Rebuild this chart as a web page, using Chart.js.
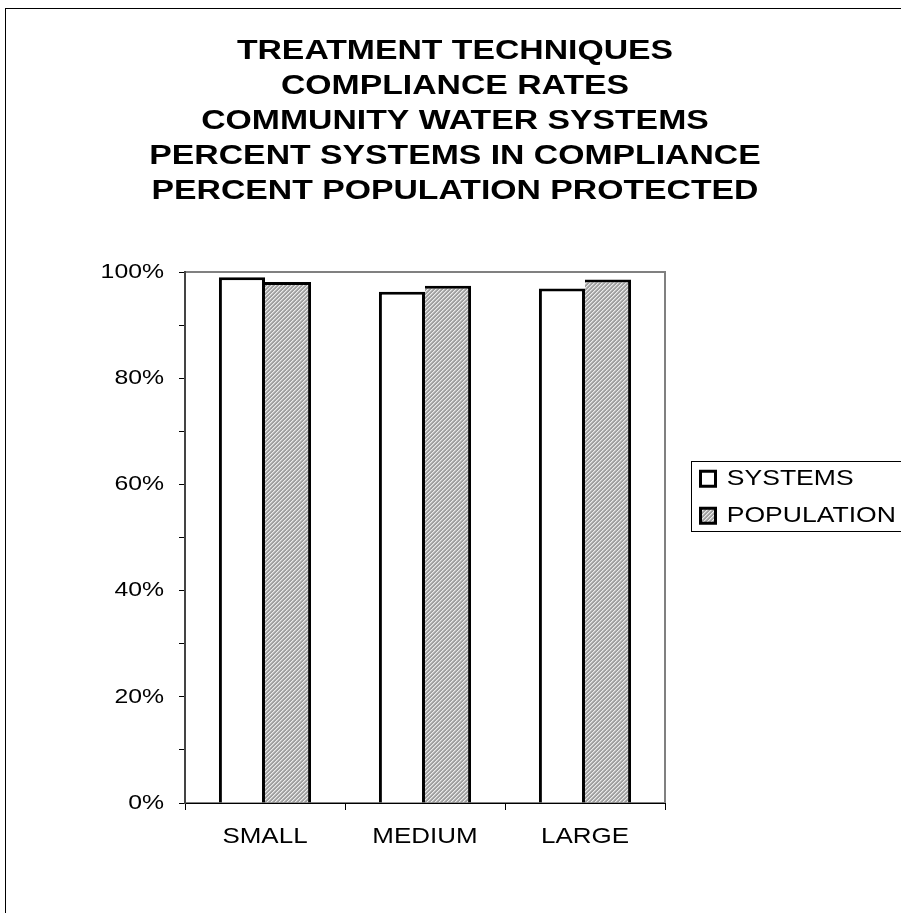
<!DOCTYPE html>
<html><head><meta charset="utf-8">
<script src="https://cdn.jsdelivr.net/npm/chart.js@4"></script>
<style>html,body{margin:0;padding:0;background:#fff;} #c{display:block;}</style>
</head><body>
<canvas id="c" width="901" height="913"></canvas>
<script>
const categories = ['SMALL', 'MEDIUM', 'LARGE'];
const seriesNames = ['SYSTEMS', 'POPULATION'];
const systemsValues = [99.0, 96.3, 96.9];
const populationValues = [98.1, 97.4, 98.6];
const titleLines = ['TREATMENT TECHNIQUES', 'COMPLIANCE RATES', 'COMMUNITY WATER SYSTEMS', 'PERCENT SYSTEMS IN COMPLIANCE', 'PERCENT POPULATION PROTECTED'];
const yMin = 0, yMax = 100, yStep = 10, yLabelEvery = 20;

const FONT = "'Liberation Sans', Arial, Helvetica, sans-serif";
const SN = 1.18, SB = 1.25;

const canvas = document.getElementById('c');
const ctx = canvas.getContext('2d');
const origFill = CanvasRenderingContext2D.prototype.fillText;
ctx.fillText = function (text, x, y) {
  const s = /bold/.test(this.font) ? SB : SN;
  this.save();
  this.translate(x, y);
  this.scale(s, 1);
  origFill.call(this, text, 0, 0);
  this.restore();
};

function makeHatch() {
  const t = document.createElement('canvas');
  t.width = 4; t.height = 4;
  const g = t.getContext('2d');
  const img = g.createImageData(4, 4);
  for (let y = 0; y < 4; y++) for (let x = 0; x < 4; x++) {
    const k = (x + y) % 4;
    const v = k === 0 ? 235 : (k === 1 ? 195 : 160);
    const i = (y * 4 + x) * 4;
    img.data[i] = v; img.data[i + 1] = v; img.data[i + 2] = v; img.data[i + 3] = 255;
  }
  g.putImageData(img, 0, 0);
  return ctx.createPattern(t, 'repeat');
}
const hatch = makeHatch();

Chart.defaults.font.family = FONT;
Chart.defaults.color = '#000';

const framePlugin = {
  id: 'frame',
  beforeDraw(chart) {
    const c = chart.ctx, a = chart.chartArea;
    c.save();
    c.fillStyle = '#fff';
    c.fillRect(0, 0, chart.width, chart.height);
    c.strokeStyle = '#000'; c.lineWidth = 1;
    c.strokeRect(5.5, 8.5, chart.width + 20, chart.height + 20);
    c.strokeStyle = '#808080'; c.lineWidth = 2;
    c.strokeRect(a.left, a.top, a.right - a.left, a.bottom - a.top);
    c.restore();
  },
  afterLayout(chart) {
    const t = chart.titleBlock;
    if (t) { t.left = 0; t.right = 910; t.width = 910; }
    const l = chart.legend;
    if (l) { l.left = 686; l.top = 453; l.right = 901; l.bottom = 620; l.width = 215; l.height = 167; }
  },
  afterDraw(chart) {
    const c = chart.ctx, l = chart.legend;
    c.save();
    c.strokeStyle = '#000'; c.lineWidth = 1;
    c.strokeRect(l.left + 5.5, l.top + 8.5, 240, 70);
    c.restore();
  }
};

new Chart(ctx, {
  type: 'bar',
  data: {
    labels: categories,
    datasets: [
      { label: seriesNames[0], data: systemsValues, backgroundColor: '#fff', borderColor: '#000',
        borderWidth: { top: 3, left: 3, right: 3, bottom: 0 }, borderSkipped: 'start' },
      { label: seriesNames[1], data: populationValues, backgroundColor: hatch, borderColor: '#000',
        borderWidth: { top: 3, left: 0, right: 3, bottom: 0 }, borderSkipped: 'start' }
    ]
  },
  options: {
    responsive: false,
    animation: false,
    datasets: { bar: { categoryPercentage: 0.576, barPercentage: 1.0 } },
    layout: { padding: { left: 0, right: 236, top: 0, bottom: 50 } },
    plugins: {
      tooltip: { enabled: false },
      title: {
        display: true,
        text: titleLines,
        color: '#000',
        font: { family: FONT, size: 27, weight: 'bold', lineHeight: '35px' },
        padding: { top: 34.5, bottom: 62.5 }
      },
      legend: {
        display: true,
        position: 'chartArea',
        align: 'start',
        labels: {
          boxWidth: 15, boxHeight: 15, padding: 14.5, color: '#000',
          font: { family: FONT, size: 22.5 },
          generateLabels(chart) {
            const items = Chart.defaults.plugins.legend.labels.generateLabels(chart);
            items.forEach(it => { it.lineWidth = 3; it.strokeStyle = '#000'; });
            return items;
          }
        }
      }
    },
    scales: {
      x: {
        grid: { display: true, drawOnChartArea: false, drawTicks: true, tickLength: 7, color: '#000', lineWidth: 1, offset: true },
        border: { display: true, color: '#000', width: 1 },
        ticks: { padding: 14, font: { family: FONT, size: 22 }, color: '#000' },
        afterFit(s) { s.height = 60; }
      },
      y: {
        min: yMin, max: yMax,
        grid: { display: true, drawOnChartArea: false, drawTicks: true, tickLength: 6, color: '#000', lineWidth: 1 },
        border: { display: true, color: '#444', width: 2 },
        ticks: {
          stepSize: yStep, autoSkip: false, padding: 15, color: '#000',
          font: { family: FONT, size: 21 },
          callback: v => (v % yLabelEvery === 0 ? v + '%' : '')
        },
        afterFit(s) { s.width = 185; }
      }
    }
  },
  plugins: [framePlugin]
});
</script>
</body></html>
